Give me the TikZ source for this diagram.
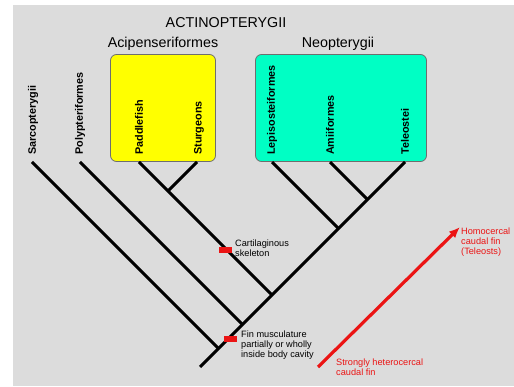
\documentclass[tikz,border=0pt]{standalone}
\usepackage{fontspec}
\setmainfont{Liberation Sans}
\usetikzlibrary{arrows.meta}
\definecolor{bgc}{RGB}{220,220,220}
\definecolor{boxy}{RGB}{255,255,0}
\definecolor{boxc}{RGB}{0,255,196}
\definecolor{redc}{RGB}{235,20,20}
\definecolor{edgec}{RGB}{110,110,110}
\begin{document}
\begin{tikzpicture}[x=1pt,y=-1pt,
  branch/.style={line width=3pt},
  leaf/.style={rotate=90, anchor=west, inner sep=0pt, font=\bfseries\fontsize{10.8}{12}\selectfont},
  clade/.style={draw=edgec, line width=0.8pt, rounded corners=6pt, inner sep=0pt, minimum height=107pt},
  title/.style={inner sep=0pt, font=\fontsize{14.3}{16}\selectfont},
  note/.style={inner sep=0pt, anchor=north west, align=left, font=\fontsize{9.2}{10}\selectfont},
  charmark/.style={fill=redc, draw=none, inner sep=0pt, minimum width=13pt, minimum height=6pt}
]
\useasboundingbox (0,0) rectangle (514,387);
\fill[bgc] (13,5) rectangle (514,386);

% clade boxes
\node[clade, fill=boxy, minimum width=105pt] (acibox) at (163,108) {};
\node[clade, fill=boxc, minimum width=171pt] (neobox) at (341,108) {};

% titles
\node[title] (actino) at (226,23) {ACTINOPTERYGII};
\node[title] (acip) at (163,44) {Acipenseriformes};
\node[title] (neop) at (338,44) {Neopterygii};

% leaf labels
\node[leaf] (lsarc) at (33,155) {Sarcopterygii};
\node[leaf] (lpoly) at (80,155) {Polypteriformes};
\node[leaf] (lpadd) at (139,155) {Paddlefish};
\node[leaf] (lstur) at (199,155) {Sturgeons};
\node[leaf] (llepi) at (272,155) {Lepisosteiformes};
\node[leaf] (lamii) at (330,155) {Amiiformes};
\node[leaf] (ltele) at (405,155) {Teleostei};

% tree coordinates
\coordinate (tsarc) at (32,162);
\coordinate (tpoly) at (80,162);
\coordinate (tpadd) at (139,162);
\coordinate (tstur) at (197,162);
\coordinate (tlepi) at (272,162);
\coordinate (tamii) at (330,162);
\coordinate (ttele) at (405,162);
\coordinate (jsarc) at (218.5,348.5);
\coordinate (jpoly) at (242.5,324.5);
\coordinate (jpadd) at (272,295);
\coordinate (jstur) at (168,191);
\coordinate (jlepi) at (338.5,228.5);
\coordinate (jamii) at (367.5,199.5);
\coordinate (root) at (200,367);

% branches
\draw[branch] (ttele) -- (root);
\draw[branch] (tsarc) -- (jsarc);
\draw[branch] (tpoly) -- (jpoly);
\draw[branch] (tpadd) -- (jpadd);
\draw[branch] (tstur) -- (jstur);
\draw[branch] (tlepi) -- (jlepi);
\draw[branch] (tamii) -- (jamii);

% character marks
\node[charmark] (mcart) at (225,250) {};
\node[charmark] (mfin) at (230,339) {};
\node[note] (ncart) at (235,240) {Cartilaginous\\skeleton};
\node[note] (nfin) at (241,331) {Fin musculature\\partially or wholly\\inside body cavity};

% red arrow
\coordinate (ahet) at (318,367);
\coordinate (ahom) at (460,227);
\draw[redc, line width=3.2pt, -{Latex[length=11pt,width=9pt]}] (ahet) -- (ahom);
\node[note, text=redc] (nhom) at (461,228) {Homocercal\\caudal fin\\(Teleosts)};
\node[note, text=redc] (nhet) at (336,359) {Strongly heterocercal\\caudal fin};
\end{tikzpicture}
\end{document}
